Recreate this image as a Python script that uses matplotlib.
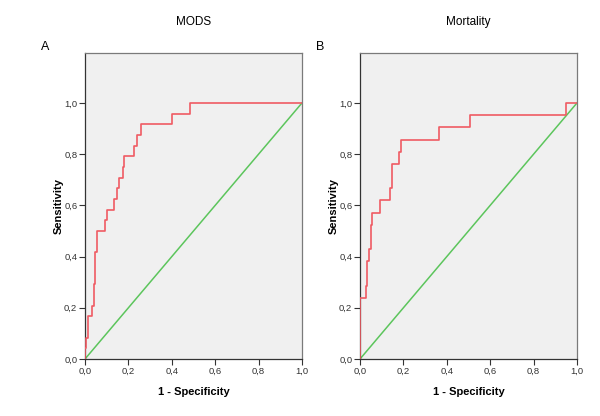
import numpy as np
import matplotlib
matplotlib.use("Agg")
import matplotlib.pyplot as plt
from matplotlib.ticker import FuncFormatter

# ------------------------------------------------------------------
# ROC data (jump position, sensitivity reached)
# ------------------------------------------------------------------
titles = ["MODS", "Mortality"]
panel_letters = ["A", "B"]

mods_fpr = [0.0, 0.0, 0.005, 0.015, 0.034, 0.040, 0.046, 0.048, 0.057, 0.092,
            0.100, 0.133, 0.149, 0.156, 0.173, 0.181, 0.225, 0.240, 0.257,
            0.400, 0.484, 1.0]
mods_tpr = [0.0, 0.042, 0.083, 0.167, 0.208, 0.292, 0.375, 0.417, 0.500, 0.542,
            0.583, 0.625, 0.667, 0.708, 0.750, 0.792, 0.833, 0.875, 0.917,
            0.958, 1.0, 1.0]

mort_fpr = [0.0, 0.0, 0.026, 0.034, 0.041, 0.049, 0.057, 0.090, 0.139, 0.147,
            0.179, 0.187, 0.365, 0.505, 0.951, 1.0]
mort_tpr = [0.0, 0.238, 0.286, 0.381, 0.429, 0.524, 0.571, 0.619, 0.667, 0.762,
            0.810, 0.857, 0.905, 0.952, 1.0, 1.0]

ref_line = [0.0, 1.0]
ticks = [0.0, 0.2, 0.4, 0.6, 0.8, 1.0]

curves = [(mods_fpr, mods_tpr), (mort_fpr, mort_tpr)]

RED = "#ef5b63"
GREEN = "#5cc55c"
BG = "#f0f0f0"
FRAME = "#7a7a7a"

comma = FuncFormatter(lambda v, pos: f"{v:.1f}".replace(".", ","))

fig = plt.figure(figsize=(6.0, 4.16), dpi=100)
plt.rcParams['font.family'] = ['Liberation Sans', 'DejaVu Sans']

# axes positions in figure fractions
lefts = [85 / 600, 360 / 600]
width = 217 / 600
bottom = 1 - 359 / 416
height = (359 - 53) / 416

for i, (fpr, tpr) in enumerate(curves):
    ax = fig.add_axes([lefts[i], bottom, width, height])
    ax.set_facecolor(BG)
    ax.plot(ref_line, ref_line, color=GREEN, lw=1.1, zorder=2)
    ax.plot(fpr, tpr, color=RED, lw=1.2, drawstyle='steps-post', zorder=3)
    ax.set_xlim(0, 1.0)
    ax.set_ylim(0, 1.195)
    ax.set_xticks(ticks)
    ax.set_yticks(ticks)
    ax.xaxis.set_major_formatter(comma)
    ax.yaxis.set_major_formatter(comma)
    ax.tick_params(direction='out', length=4, width=0.8, color='#333333',
                   labelsize=6.8, labelcolor='#333333', pad=1.5)
    for sp in ax.spines.values():
        sp.set_color(FRAME)
        sp.set_linewidth(0.9)
    ax.spines['left'].set_color('#333333')
    ax.spines['bottom'].set_color('#333333')
    ax.set_xlabel("1 - Specificity", fontsize=8, fontweight='bold', labelpad=8)
    ax.set_ylabel("Sensitivity", fontsize=8, fontweight='bold', labelpad=0)

    cx = lefts[i] + width / 2
    fig.text(cx, 1 - 22 / 416, titles[i], ha='center', va='center', fontsize=8.5)
    fig.text(lefts[i] - 40 / 600, 1 - 47 / 416, panel_letters[i],
             ha='center', va='center', fontsize=9)

fig.savefig("out.png", dpi=100, facecolor='white')
